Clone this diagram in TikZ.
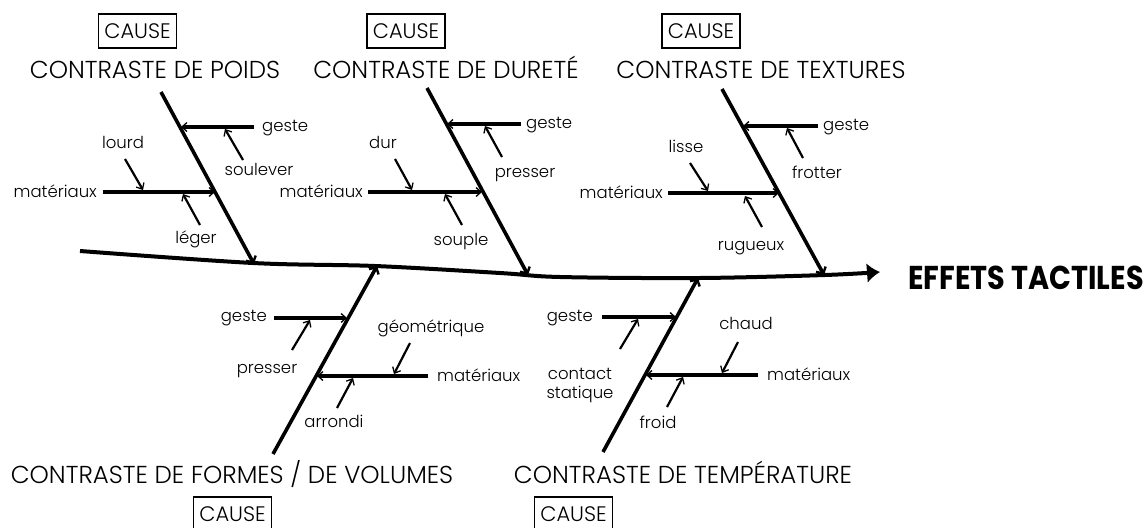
\documentclass[tikz,border=0pt]{standalone}
\usepackage{fontspec}
\setmainfont{Poppins Light}[BoldFont=Poppins Bold]
\usetikzlibrary{arrows.meta}
\begin{document}
\begin{tikzpicture}[x=1pt,y=-1pt,
  spine/.style={line width=4pt, -{Latex[length=13pt,width=20pt]}},
  bone/.style={line width=3.6pt, -{Straight Barb[length=5pt,width=11pt,line width=2.4pt]}},
  sub/.style={line width=3.2pt, -{Straight Barb[length=5pt,width=9pt,line width=1.3pt]}},
  twig/.style={line width=2.2pt, -{Straight Barb[length=5pt,width=9pt,line width=1.3pt]}},
  lab/.style={font=\fontsize{16.5}{19}\selectfont, inner sep=0pt},
  ttl/.style={font=\fontsize{24.5}{27}\selectfont, inner sep=0pt, anchor=base},
  causebox/.style={draw, line width=1.2pt, font=\fontsize{21}{23}\selectfont, minimum width=78pt, minimum height=34pt, inner sep=0pt},
]
\useasboundingbox (0,0) rectangle (1147,527);

% spine
\coordinate (sp0) at (80,251);
\coordinate (spE) at (880,272);
\draw[spine] plot[smooth, tension=0.55] coordinates {(80,251) (253,263) (375,266) (500,273) (560,277) (700,278) (825,275) (880,272)};
\node[anchor=base west, inner sep=0pt, font=\bfseries\fontsize{33}{36}\selectfont] (eff) at (908,289) {\scalebox{0.87}[1]{EFFETS TACTILES}};

% ---------- titles and cause boxes ----------
\node[causebox] (c1) at (137.5,31) {CAUSE};
\node[causebox] (c2) at (406,31) {CAUSE};
\node[causebox] (c3) at (701,31) {CAUSE};
\node[causebox] (c4) at (232.5,514) {CAUSE};
\node[causebox] (c5) at (573.5,514) {CAUSE};
\node[ttl] (t1) at (155,78) {CONTRASTE DE POIDS};
\node[ttl] (t2) at (446,78) {CONTRASTE DE DURETÉ};
\node[ttl] (t3) at (761,78) {CONTRASTE DE TEXTURES};
\node[ttl] (t4) at (232,483) {CONTRASTE DE FORMES / DE VOLUMES};
\node[ttl] (t5) at (683,483) {CONTRASTE DE TEMPÉRATURE};

% ---------- bone 1 : poids ----------
\coordinate (b1s) at (161,92);
\coordinate (b1e) at (254,264);
\draw[bone] (b1s) -- (b1e);
\coordinate (g1s) at (254,127); \coordinate (g1e) at (181,127);
\draw[sub] (g1s) -- (g1e);
\node[lab, anchor=base west] (g1) at (262,131) {geste};
\coordinate (so1s) at (243,160); \coordinate (so1e) at (225,129);
\draw[twig] (so1s) -- (so1e);
\node[lab, anchor=base] (so1) at (259,175) {soulever};
\coordinate (m1s) at (103,192); \coordinate (m1e) at (215,192);
\draw[sub] (m1s) -- (m1e);
\node[lab, anchor=base east] (m1) at (97,197) {matériaux};
\coordinate (lo1s) at (125,159); \coordinate (lo1e) at (143,190);
\draw[twig] (lo1s) -- (lo1e);
\node[lab, anchor=base] (lo1) at (123,148) {lourd};
\coordinate (le1s) at (200,225); \coordinate (le1e) at (183,194);
\draw[twig] (le1s) -- (le1e);
\node[lab, anchor=base] (le1) at (196,243) {léger};

% ---------- bone 2 : dureté ----------
\coordinate (b2s) at (427,88);
\coordinate (b2e) at (528,275);
\draw[bone] (b2s) -- (b2e);
\coordinate (g2s) at (521,124); \coordinate (g2e) at (447,124);
\draw[sub] (g2s) -- (g2e);
\node[lab, anchor=base west] (g2) at (526,128) {geste};
\coordinate (p2s) at (502,157); \coordinate (p2e) at (485,126);
\draw[twig] (p2s) -- (p2e);
\node[lab, anchor=base] (p2) at (525,177) {presser};
\coordinate (m2s) at (368,192); \coordinate (m2e) at (482,192);
\draw[sub] (m2s) -- (m2e);
\node[lab, anchor=base east] (m2) at (363,197) {matériaux};
\coordinate (d2s) at (395,159); \coordinate (d2e) at (412,190);
\draw[twig] (d2s) -- (d2e);
\node[lab, anchor=base] (d2) at (383,148) {dur};
\coordinate (s2s) at (462,225); \coordinate (s2e) at (445,194);
\draw[twig] (s2s) -- (s2e);
\node[lab, anchor=base] (s2) at (461,245) {souple};

% ---------- bone 3 : textures ----------
\coordinate (b3s) at (722,89);
\coordinate (b3e) at (824,275);
\draw[bone] (b3s) -- (b3e);
\coordinate (g3s) at (818,126); \coordinate (g3e) at (743,126);
\draw[sub] (g3s) -- (g3e);
\node[lab, anchor=base west] (g3) at (823,130) {geste};
\coordinate (f3s) at (803,158); \coordinate (f3e) at (787,128);
\draw[twig] (f3s) -- (f3e);
\node[lab, anchor=base] (f3) at (817,178) {frotter};
\coordinate (m3s) at (668,193); \coordinate (m3e) at (779,193);
\draw[sub] (m3s) -- (m3e);
\node[lab, anchor=base east] (m3) at (663,198) {matériaux};
\coordinate (li3s) at (690,163); \coordinate (li3e) at (708,191);
\draw[twig] (li3s) -- (li3e);
\node[lab, anchor=base] (li3) at (686,152) {lisse};
\coordinate (r3s) at (762,227); \coordinate (r3e) at (745,196);
\draw[twig] (r3s) -- (r3e);
\node[lab, anchor=base] (r3) at (751,250) {rugueux};

% ---------- bone 4 : formes ----------
\coordinate (b4s) at (273,454);
\coordinate (b4e) at (377,266);
\draw[bone] (b4s) -- (b4e);
\coordinate (g4s) at (274,318); \coordinate (g4e) at (347,318);
\draw[sub] (g4s) -- (g4e);
\node[lab, anchor=base east] (g4) at (267,321) {geste};
\coordinate (p4s) at (292,350); \coordinate (p4e) at (310,320);
\draw[twig] (p4s) -- (p4e);
\node[lab, anchor=base] (p4) at (267,373) {presser};
\coordinate (m4s) at (428,376); \coordinate (m4e) at (317,376);
\draw[sub] (m4s) -- (m4e);
\node[lab, anchor=base west] (m4) at (437,381) {matériaux};
\coordinate (ge4s) at (410,343); \coordinate (ge4e) at (394,374);
\draw[twig] (ge4s) -- (ge4e);
\node[lab, anchor=base] (ge4) at (431,332) {géométrique};
\coordinate (a4s) at (337,408); \coordinate (a4e) at (353,378);
\draw[twig] (a4s) -- (a4e);
\node[lab, anchor=base] (a4) at (334,427) {arrondi};

% ---------- bone 5 : température ----------
\coordinate (b5s) at (603,452);
\coordinate (b5e) at (698,278);
\draw[bone] (b5s) -- (b5e);
\coordinate (g5s) at (602,317); \coordinate (g5e) at (676,317);
\draw[sub] (g5s) -- (g5e);
\node[lab, anchor=base east] (g5) at (593,321) {geste};
\coordinate (c5s) at (620,349); \coordinate (c5e) at (638,319);
\draw[twig] (c5s) -- (c5e);
\node[lab, anchor=base, align=center] (cs5) at (580,398) {contact\\statique};
\coordinate (m5s) at (758,375); \coordinate (m5e) at (646,375);
\draw[sub] (m5s) -- (m5e);
\node[lab, anchor=base west] (m5) at (767,380) {matériaux};
\coordinate (ch5s) at (738,342); \coordinate (ch5e) at (722,373);
\draw[twig] (ch5s) -- (ch5e);
\node[lab, anchor=base] (ch5) at (746,329) {chaud};
\coordinate (fr5s) at (667,407); \coordinate (fr5e) at (683,377);
\draw[twig] (fr5s) -- (fr5e);
\node[lab, anchor=base] (fr5) at (658,428) {froid};
\end{tikzpicture}
\end{document}
